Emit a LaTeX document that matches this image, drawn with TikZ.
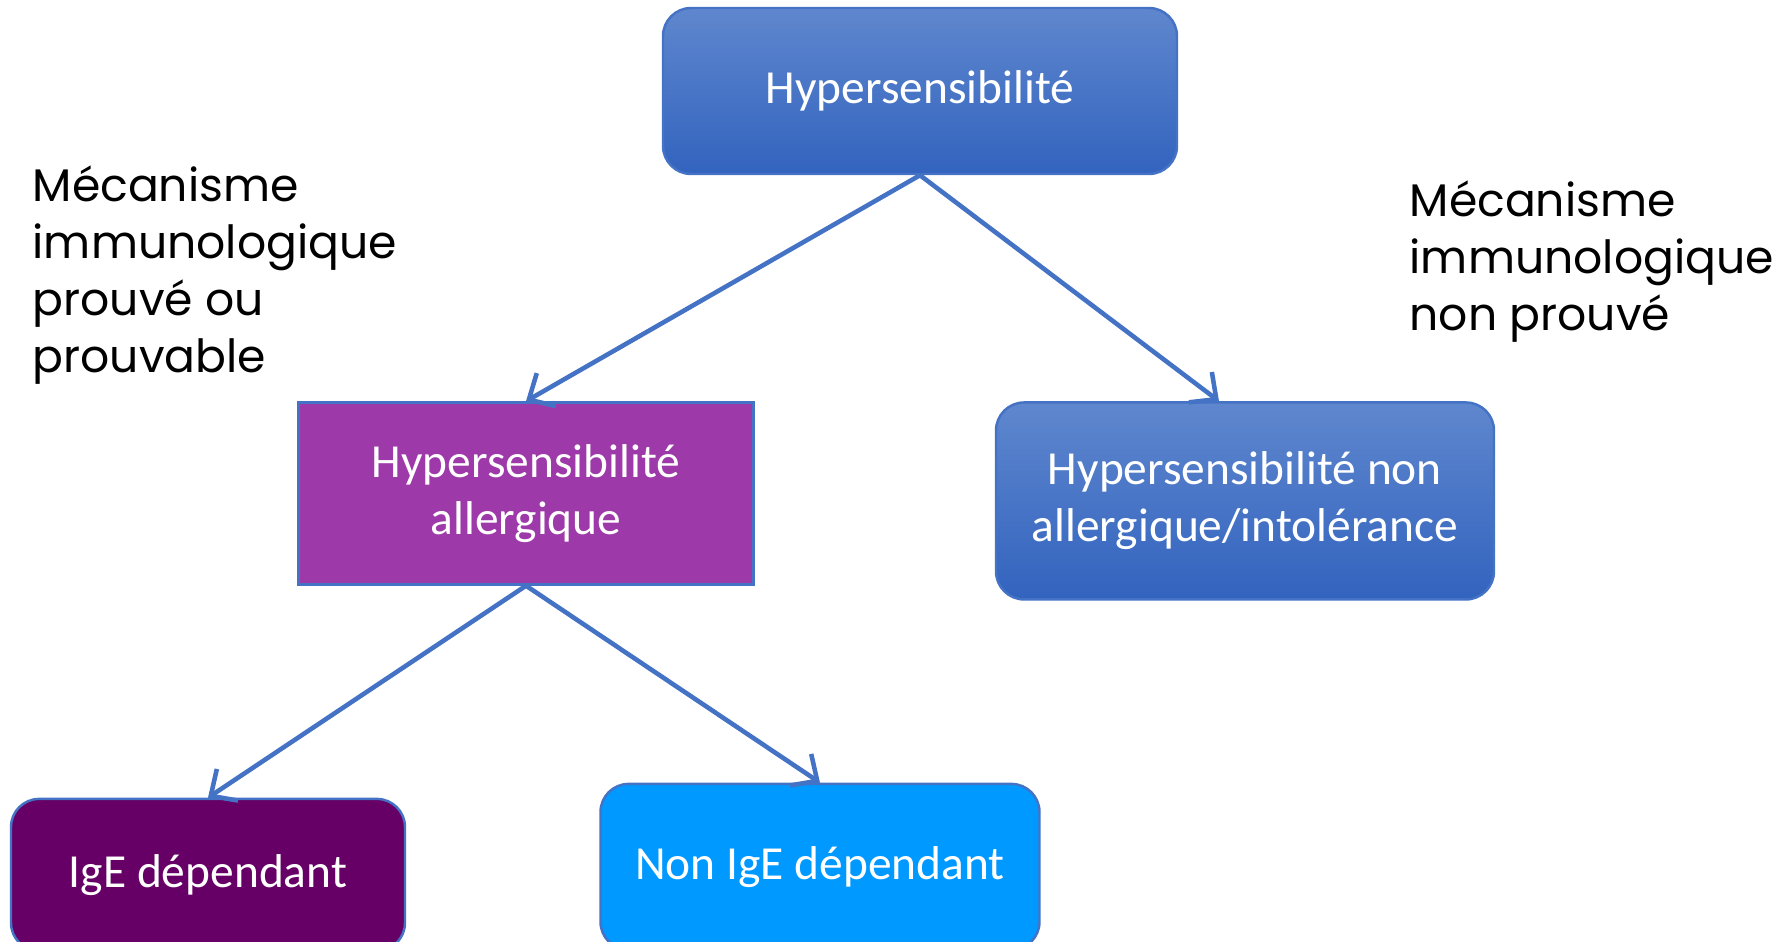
\documentclass[tikz,border=0pt]{standalone}
\usepackage{fontspec}
\setmainfont{Carlito}
\newfontfamily\notefont{Poppins}
\usepackage{xcolor}
\usepackage{tikz}
\usetikzlibrary{arrows.meta,positioning}
\definecolor{boxtop}{RGB}{95,135,206}
\definecolor{boxbot}{RGB}{50,99,190}
\definecolor{edgeblue}{RGB}{68,114,196}
\definecolor{allergpurple}{RGB}{157,57,168}
\definecolor{igepurple}{RGB}{102,0,102}
\definecolor{nonigeblue}{RGB}{0,153,255}
\tikzset{
  bluebox/.style={
    rectangle,
    rounded corners=8pt,
    draw=edgeblue,
    line width=0.7pt,
    top color=boxtop,
    bottom color=boxbot,
    align=center,
    text=white,
    font=\fontsize{13.5}{16.2}\selectfont
  },
  allergbox/.style={
    rectangle,
    draw=edgeblue,
    line width=0.7pt,
    fill=allergpurple,
    minimum width=4.55cm,
    minimum height=1.82cm,
    align=center,
    text=white,
    font=\fontsize{13.5}{16.2}\selectfont
  },
  igebox/.style={
    rectangle,
    rounded corners=8pt,
    draw=edgeblue,
    line width=0.7pt,
    fill=igepurple,
    minimum width=3.94cm,
    minimum height=1.52cm,
    align=center,
    text=white,
    font=\fontsize{13.5}{16.2}\selectfont
  },
  nonigebox/.style={
    rectangle,
    rounded corners=8pt,
    draw=edgeblue,
    line width=0.7pt,
    fill=nonigeblue,
    minimum width=4.39cm,
    minimum height=1.66cm,
    align=center,
    text=white,
    font=\fontsize{13.5}{16.2}\selectfont
  },
  note/.style={
    align=left,
    anchor=west,
    inner sep=0pt,
    font=\notefont\fontsize{13}{16.2}\selectfont
  },
  flow/.style={-{Straight Barb[length=2mm,width=3.8mm]}, line width=1.3pt, edgeblue}
}
\begin{document}
\begin{tikzpicture}
\useasboundingbox (0,0) rectangle (17.83,-9.42);
\clip (0,0) rectangle (17.83,-9.42);
\node[bluebox, minimum width=5.14cm, minimum height=1.66cm] (top) at (9.20,-0.91) {Hypersensibilité};
\node[allergbox, below=2.26cm of top, xshift=-3.94cm] (allerg) {Hypersensibilité\\allergique};
\node[bluebox, minimum width=4.98cm, minimum height=1.97cm, below=2.26cm of top, xshift=3.25cm] (nonallerg) {Hypersensibilité non\\allergique/intolérance};
\node[igebox, below=2.12cm of allerg, xshift=-3.18cm] (ige) {IgE dépendant};
\node[nonigebox, below=1.97cm of allerg, xshift=2.94cm] (nonige) {Non IgE dépendant};
\node[note] (proven) at (0.32,-2.75) {Mécanisme\\immunologique\\prouvé ou\\prouvable};
\node[note] (unproven) at (14.09,-2.62) {Mécanisme\\immunologique\\non prouvé};
\draw[flow] (top.south) -- (allerg.north);
\draw[flow] (top.south) -- ([xshift=-0.26cm]nonallerg.north);
\draw[flow] (allerg.south) -- (ige.north);
\draw[flow] (allerg.south) -- (nonige.north);
\end{tikzpicture}
\end{document}
